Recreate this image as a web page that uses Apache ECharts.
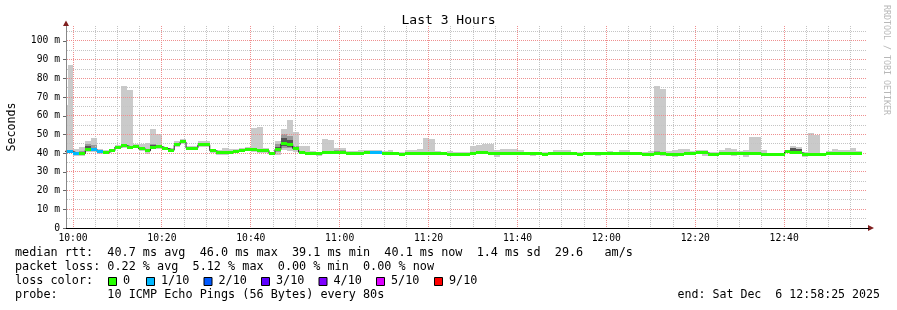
<!DOCTYPE html>
<html><head><meta charset="utf-8">
<script src="https://cdn.jsdelivr.net/npm/echarts@6/dist/echarts.min.js"></script>
<style>html,body{margin:0;padding:0;background:#fff}#c{width:897px;height:310px}</style>
</head><body><div id="c"></div>
<script>
// ---- data (ms), one value per 80 s step; x in minutes relative to 10:00 ----
const axisStart = -95 / 60;          // 09:58:25
const axisEnd = axisStart + 180;     // 12:58:25
const yMax = 108;
const firstStepStart = -2.573;       // start of first (partly visible) 80 s step
const stepMinutes = 80 / 60;

const median = [41.0,40.8,39.8,39.8,41.8,41.9,40.7,40.5,41.3,43.3,
 44.0,43.3,43.8,42.3,41.3,43.3,43.5,42.5,41.6,44.5,
 46.0,42.7,42.7,44.5,44.5,41.3,40.4,40.3,40.3,41.0,
 41.6,42.0,41.9,41.3,41.5,39.7,42.0,45.0,44.7,42.5,
 40.5,40.0,40.0,39.7,40.4,40.4,40.4,40.3,40.0,40.0,
 40.0,40.3,40.4,40.4,40.0,40.0,39.7,39.5,39.8,40.0,
 40.0,40.0,40.0,39.8,39.7,39.5,39.5,39.3,39.3,39.8,
 40.2,40.3,40.0,39.8,40.0,40.0,39.8,39.8,39.6,39.6,
 39.6,39.4,39.6,39.6,40.0,40.0,39.6,39.4,39.6,39.6,
 39.8,40.0,40.0,39.8,40.0,39.8,39.6,39.6,39.4,39.2,
 39.8,39.8,39.5,39.4,39.4,39.8,39.8,40.5,40.2,39.4,
 39.4,39.8,40.0,40.0,39.8,39.8,39.8,40.0,39.1,39.1,
 39.1,39.1,40.7,40.2,40.2,39.4,39.4,39.4,39.2,39.6,
 39.8,39.8,40.0,40.0,40.0];

// loss class per step: 0 = no loss, 1 = 1/10
const lossClass = [1,1,1,0,0,1,1,0,0,0, 0,0,0,0,0,0,0,0,0,0, 0,0,0,0,0,0,0,0,0,0,
 0,0,0,0,0,0,0,0,0,0, 0,0,0,0,0,0,0,0,0,0, 0,0,1,1,0,0,0,0,0,0,
 0,0,0,0,0,0,0,0,0,0, 0,0,0,0,0,0,0,0,0,0, 0,0,0,0,0,0,0,0,0,0,
 0,0,0,0,0,0,0,0,0,0, 0,0,0,0,0,0,0,0,0,0, 0,0,0,0,0,0,0,0,0,0,
 0,0,0,0,0,0,0,0,0,0, 0,0,0,0,0];

const pingMax = [66,87,42.0,43.5,46.5,48.0,42.0,41.5,42.5,44.6,
 76.0,73.9,45.0,45.0,45.3,53.0,50.0,43.5,42.6,46.5,
 47.5,43.8,43.8,46.5,46.3,42.3,41.8,42.6,42.2,42.0,
 43.0,43.2,53.3,54.0,42.6,40.8,46.5,52.8,58.0,51.3,
 43.8,43.8,41.0,40.6,47.6,47.0,42.6,42.6,41.0,41.4,
 41.8,41.8,41.6,41.6,41.0,41.5,40.8,40.6,41.6,41.8,
 42.0,48.1,47.6,41.2,40.8,41.0,40.7,40.5,40.4,43.8,
 44.6,44.7,44.7,41.8,42.0,42.2,42.0,41.8,40.8,40.6,
 40.6,40.8,40.6,41.5,41.8,41.5,40.8,40.5,40.6,40.2,
 40.6,40.9,41.4,40.8,41.8,41.8,40.6,40.5,40.4,41.0,
 76.0,74.3,41.0,41.5,42.0,42.2,41.0,41.8,41.5,40.4,
 40.5,41.5,42.8,42.2,41.0,41.8,48.7,48.7,41.8,40.2,
 40.0,40.0,41.6,43.9,43.2,40.6,50.8,49.7,40.2,41.4,
 42.2,41.5,41.5,42.8,41.4];

const pingMin = [40.0,40.0,38.5,38.6,40.5,40.8,39.8,39.3,40.5,42.2,
 42.8,42.3,42.7,41.3,39.8,42.0,42.3,41.5,40.8,43.3,
 44.8,41.5,41.8,43.3,43.4,40.2,39.0,39.0,39.5,40.0,
 40.5,41.0,40.7,40.2,40.2,38.8,39.0,41.5,41.0,40.5,
 39.5,39.2,39.3,38.7,39.6,39.6,39.6,39.6,39.2,39.4,
 39.2,39.6,39.6,39.5,39.0,39.3,39.0,38.6,39.0,39.3,
 39.4,39.2,39.3,39.2,39.0,38.8,38.6,38.5,38.4,39.0,
 39.4,39.5,39.2,38.2,39.2,39.3,39.0,39.2,38.9,38.3,
 38.9,38.8,38.9,38.9,39.2,39.3,38.9,38.5,38.9,38.9,
 38.6,39.3,39.3,39.1,39.3,39.1,38.9,38.9,38.5,38.6,
 39.0,38.5,38.5,38.2,38.8,39.1,39.1,39.7,38.5,38.5,
 38.8,39.1,39.3,38.5,39.1,38.2,39.1,39.3,38.5,38.5,
 38.6,38.6,40.0,39.6,39.5,38.2,38.8,38.8,38.7,39.0,
 39.2,39.2,39.4,39.4,39.4];

const midLo = [40.5,40.3,39.2,39.2,41.0,41.3,40.2,40.0,40.8,42.8,
 43.3,42.8,43.2,41.8,40.8,42.7,43.0,42.0,41.2,44.0,
 45.4,42.2,42.2,43.9,44.0,40.8,39.8,39.8,39.9,40.5,
 41.0,41.5,41.3,40.8,40.9,39.2,40.5,43.0,43.0,41.5,
 40.0,39.6,39.6,39.2,40.0,40.0,40.0,39.9,39.6,39.6,
 39.6,39.9,40.0,40.0,39.5,39.6,39.3,39.0,39.4,39.6,
 39.7,39.6,39.6,39.5,39.3,39.1,39.0,38.8,38.8,39.4,
 39.8,39.9,39.6,39.2,39.6,39.6,39.4,39.4,39.2,39.0,
 39.2,39.0,39.2,39.2,39.6,39.6,39.2,38.9,39.2,39.2,
 39.3,39.6,39.6,39.4,39.6,39.4,39.2,39.2,38.9,38.9,
 39.4,39.0,38.9,38.9,39.0,39.4,39.4,40.0,39.8,38.9,
 39.0,39.4,39.6,39.0,39.4,39.3,39.4,39.6,38.6,38.7,
 38.8,38.8,40.3,40.0,39.8,38.9,39.1,39.1,38.9,39.3,
 39.5,39.5,39.7,39.7,39.7];

const midHi = [41.5,41.5,40.5,41.0,45.0,44.5,41.2,41.0,41.8,43.8,
 44.8,43.8,44.3,43.5,42.0,45.0,44.2,43.0,42.2,45.5,
 46.9,43.3,43.2,45.5,45.6,41.8,41.0,41.2,40.9,41.5,
 42.3,42.6,42.8,42.2,42.0,40.3,45.0,50.5,49.0,43.8,
 41.2,40.6,40.5,40.2,41.0,40.9,41.8,41.5,40.5,40.6,
 40.6,41.0,41.0,41.0,40.5,40.6,40.3,40.0,40.4,40.6,
 40.6,40.8,40.7,40.3,40.2,40.0,40.0,39.8,39.8,40.4,
 41.0,41.2,40.8,40.4,40.6,40.8,40.5,40.4,40.2,40.1,
 40.1,39.9,40.1,40.2,40.6,40.5,40.1,39.9,40.1,40.0,
 40.2,40.4,40.5,40.3,40.6,40.4,40.1,40.1,39.9,39.6,
 41.3,40.5,40.0,39.9,40.0,40.3,40.3,41.0,40.7,39.9,
 39.9,40.3,40.6,40.5,40.3,40.3,40.5,40.8,39.6,39.5,
 39.5,39.5,41.2,42.5,42.0,39.9,40.0,40.0,39.7,40.1,
 40.3,40.3,40.5,40.6,40.5];

// darkest smoke (inner pings) where it is visible
const coreSteps = [4, 5, 15, 36, 37, 38, 123, 124];
const coreLo = [41.5, 41.5, 43.0, 41.0, 44.0, 43.5, 41.0, 41.0];
const coreHi = [44.0, 43.0, 44.5, 43.5, 48.0, 47.0, 43.0, 42.0];

const lossLabels = ['0', '1/10', '2/10', '3/10', '4/10', '5/10', '9/10'];
const lossColors = ['#26ff00', '#00b8ff', '#0059ff', '#5e00ff', '#7e00ff', '#dd00ff', '#ff0000'];

const statLines = [
  'median rtt:  40.7 ms avg  46.0 ms max  39.1 ms min  40.1 ms now  1.4 ms sd  29.6   am/s',
  'packet loss: 0.22 % avg  5.12 % max  0.00 % min  0.00 % now',
  'loss color:',
  'probe:       10 ICMP Echo Pings (56 Bytes) every 80s'
];
const endText = 'end: Sat Dec  6 12:58:25 2025';

// grid line positions: every 5 min (major every 20 min), every 5 ms (major every 10 ms)
const gridMinutes = [];
for (let m = 0; m <= 175; m += 5) gridMinutes.push(m);
const gridMs = [];
for (let v = 5; v <= 105; v += 5) gridMs.push(v);

// ---- build ----
const MONO = '"DejaVu Sans Mono", monospace';
const G = { left: 66, right: 31, top: 26, bottom: 82 };
const MAJOR = '#ef8f8f', MINOR = '#c4c4c4';

const smokeData = median.map((m, i) => {
  const t0 = firstStepStart + i * stepMinutes;
  return [t0, t0 + stepMinutes, pingMin[i], pingMax[i], midLo[i], midHi[i]];
});
const coreData = coreSteps.map((s, k) => {
  const t0 = firstStepStart + s * stepMinutes;
  return [t0, t0 + stepMinutes, coreLo[k], coreHi[k]];
});
const medBandData = median.map((m, i) => {
  const t0 = firstStepStart + i * stepMinutes;
  return [t0, t0 + stepMinutes, m, lossClass[i]];
});
const medLineData = median.map((m, i) => [firstStepStart + i * stepMinutes, m]);
medLineData.push([firstStepStart + median.length * stepMinutes, median[median.length - 1]]);

const vGridData = gridMinutes.map(m => [m, 0, m % 20 === 0 ? 1 : 0]);
const hGridData = gridMs.map(v => [0, v, v % 10 === 0 ? 1 : 0]);

function rectBetween(api, t0, t1, lo, hi, fill) {
  const a = api.coord([t0, hi]), b = api.coord([t1, lo]);
  const x0 = Math.round(a[0]), x1 = Math.round(b[0]);
  const y0 = Math.round(a[1]), y1 = Math.round(b[1]);
  return { type: 'rect', shape: { x: x0, y: y0, width: x1 - x0, height: Math.max(1, y1 - y0) },
           style: { fill: fill } };
}

function fmtTime(v) {
  const tot = Math.round(600 + v);
  const h = Math.floor(tot / 60), m = tot % 60;
  return (h < 10 ? '0' : '') + h + ':' + (m < 10 ? '0' : '') + m;
}

const chart = echarts.init(document.getElementById('c'), null, { renderer: 'canvas' });

const FONT = '11.8px ' + MONO;
const graphics = [];
const lineY = [254, 268, 282, 296];
statLines.forEach((t, k) => {
  graphics.push({ type: 'text', left: 15, top: lineY[k] - 7,
    style: { text: t, font: FONT, fill: '#000' } });
});
graphics.push({ type: 'text', right: 17, top: lineY[3] - 7,
  style: { text: endText, font: '11.6px ' + MONO, fill: '#000' } });
const sqX = [108, 146, 203.5, 261, 318.5, 376, 434];
lossLabels.forEach((lab, k) => {
  graphics.push({ type: 'rect', shape: { x: sqX[k] + 0.5, y: 277.5, width: 8, height: 8 },
    style: { fill: lossColors[k], stroke: '#000', lineWidth: 1 } });
  graphics.push({ type: 'text', left: sqX[k] + 15, top: lineY[2] - 7,
    style: { text: lab, font: FONT, fill: '#000' } });
});
graphics.push({ type: 'text', x: 886, y: 5, rotation: -Math.PI / 2,
  style: { text: 'RRDTOOL / TOBI OETIKER', font: '8.3px ' + MONO, fill: '#b8b8b8',
           textAlign: 'left', textVerticalAlign: 'middle' } });
const plotRight = 897 - G.right, plotBottom = 310 - G.bottom;
graphics.push({ type: 'polygon', shape: { points: [[plotRight + 2, plotBottom - 3], [plotRight + 8, plotBottom], [plotRight + 2, plotBottom + 3]] },
  style: { fill: '#7f1f1f' }, z: 20 });
graphics.push({ type: 'polygon', shape: { points: [[G.left - 3, G.top], [G.left, G.top - 5.5], [G.left + 3, G.top]] },
  style: { fill: '#7f1f1f' }, z: 20 });
graphics.push({ type: 'line', shape: { x1: plotRight, y1: plotBottom + 0.5, x2: plotRight + 3, y2: plotBottom + 0.5 },
  style: { stroke: '#000', lineWidth: 1 }, z: 20 });

const option = {
  backgroundColor: '#ffffff',
  animation: false,
  title: { text: 'Last 3 Hours', left: 'center', top: 9,
    textStyle: { fontFamily: MONO, fontSize: 13, fontWeight: 'normal', color: '#000' } },
  grid: { left: G.left, right: G.right, top: G.top, bottom: G.bottom, containLabel: false,
          outerBoundsMode: 'none' },
  xAxis: {
    type: 'value', min: axisStart, max: axisEnd, splitNumber: 9, z: 8,
    axisLine: { show: true, onZero: false, lineStyle: { color: '#000', width: 1 } },
    axisTick: { show: false },
    axisLabel: { formatter: fmtTime, showMinLabel: false, showMaxLabel: false, margin: 5,
      fontFamily: MONO, fontSize: 9.7, color: '#000' },
    splitLine: { show: false }
  },
  yAxis: {
    type: 'value', min: 0, max: yMax, splitNumber: 11, z: 8,
    name: 'Seconds', nameLocation: 'middle', nameRotate: 90, nameGap: 48,
    nameTextStyle: { fontFamily: MONO, fontSize: 11.6, color: '#000' },
    axisLine: { show: true, onZero: false, lineStyle: { color: '#888', width: 1 } },
    axisTick: { show: true, length: 3, lineStyle: { color: '#666' } },
    axisLabel: { formatter: v => (v === 0 ? '0' : v + ' m'), showMaxLabel: false, margin: 6,
      fontFamily: MONO, fontSize: 9.7, color: '#000' },
    splitLine: { show: false }
  },
  graphic: graphics,
  series: [
    {
      type: 'custom', name: 'smoke', z: 1, clip: true, silent: true,
      data: smokeData,
      encode: { x: [0, 1], y: [2, 3] },
      renderItem: (params, api) => ({ type: 'group', children: [
        rectBetween(api, api.value(0), api.value(1), api.value(2), api.value(3), '#cacaca'),
        rectBetween(api, api.value(0), api.value(1), api.value(4), api.value(5), '#9a9a9a')
      ] })
    },
    {
      type: 'custom', name: 'core', z: 1, clip: true, silent: true,
      data: coreData,
      encode: { x: [0, 1], y: [2, 3] },
      renderItem: (params, api) =>
        rectBetween(api, api.value(0), api.value(1), api.value(2), api.value(3), '#555555')
    },
    {
      type: 'custom', name: 'vgrid', z: 3, silent: true, data: vGridData,
      encode: { x: 0, y: 1 },
      renderItem: (params, api) => {
        const a = api.coord([api.value(0), 0]), b = api.coord([api.value(0), yMax]);
        const x = Math.floor(a[0]) + 0.5;
        return { type: 'line', shape: { x1: x, y1: Math.round(b[1]), x2: x, y2: Math.round(a[1]) },
          style: { stroke: api.value(2) ? MAJOR : MINOR, lineWidth: 1, lineDash: [1, 1] } };
      }
    },
    {
      type: 'custom', name: 'hgrid', z: 3, silent: true, data: hGridData,
      encode: { x: 0, y: 1 },
      renderItem: (params, api) => {
        const a = api.coord([axisStart, api.value(1)]), b = api.coord([axisEnd, api.value(1)]);
        const y = Math.floor(a[1]) + 0.5;
        return { type: 'line', shape: { x1: Math.round(a[0]) + 1, y1: y, x2: Math.round(b[0]), y2: y },
          style: { stroke: api.value(2) ? MAJOR : MINOR, lineWidth: 1, lineDash: [1, 1] } };
      }
    },
    {
      type: 'line', name: 'median', z: 5, step: 'end', showSymbol: false, symbol: 'none',
      clip: true, silent: true, data: medLineData,
      lineStyle: { color: '#202020', width: 1 }
    },
    {
      type: 'custom', name: 'loss', z: 6, clip: true, silent: true,
      data: medBandData,
      encode: { x: [0, 1], y: 2 },
      renderItem: (params, api) => {
        const a = api.coord([api.value(0), api.value(2)]);
        const b = api.coord([api.value(1), api.value(2)]);
        const x0 = Math.round(a[0]), x1 = Math.round(b[0]);
        const y0 = Math.round(a[1] - 1.5);
        return { type: 'rect', shape: { x: x0, y: y0, width: x1 - x0, height: 3 },
                 style: { fill: lossColors[api.value(3)] } };
      }
    }
  ]
};
chart.setOption(option);
</script></body></html>
